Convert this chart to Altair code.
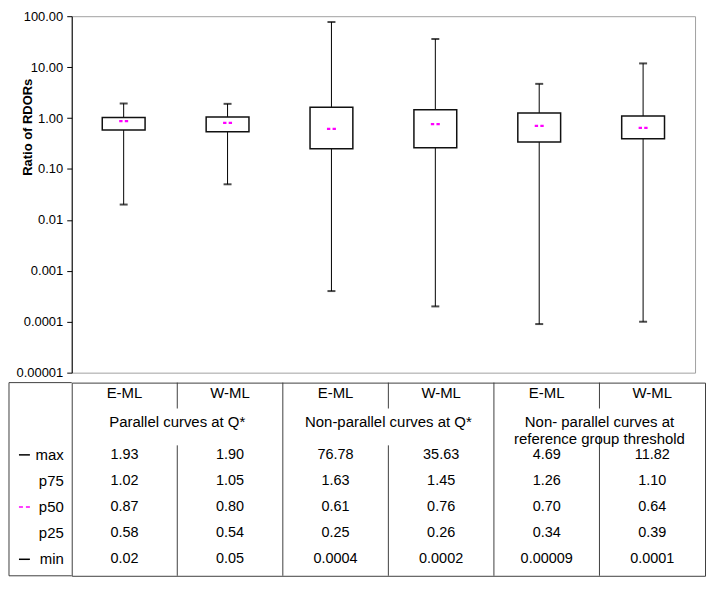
import altair as alt
import pandas as pd

# ---------------- data ----------------
col_keys = ["G1 E-ML", "G1 W-ML", "G2 E-ML", "G2 W-ML", "G3 E-ML", "G3 W-ML"]
methods = ["E-ML", "W-ML", "E-ML", "W-ML", "E-ML", "W-ML"]
group_labels = ["Parallel curves at Q*", "Non-parallel curves at Q*",
                "Non- parallel curves at\nreference group threshold"]

max_vals = [1.93, 1.90, 76.78, 35.63, 4.69, 11.82]
p75_vals = [1.02, 1.05, 1.63, 1.45, 1.26, 1.10]
p50_vals = [0.87, 0.80, 0.61, 0.76, 0.70, 0.64]
p25_vals = [0.58, 0.54, 0.25, 0.26, 0.34, 0.39]
min_vals = [0.02, 0.05, 0.0004, 0.0002, 0.00009, 0.0001]

max_txt = ["1.93", "1.90", "76.78", "35.63", "4.69", "11.82"]
p75_txt = ["1.02", "1.05", "1.63", "1.45", "1.26", "1.10"]
p50_txt = ["0.87", "0.80", "0.61", "0.76", "0.70", "0.64"]
p25_txt = ["0.58", "0.54", "0.25", "0.26", "0.34", "0.39"]
min_txt = ["0.02", "0.05", "0.0004", "0.0002", "0.00009", "0.0001"]

stat_rows = ["max", "p75", "p50", "p25", "min"]
y_ticks = [100, 10, 1, 0.1, 0.01, 0.001, 0.0001, 0.00001]
y_tick_labels = ["100.00", "10.00", "1.00", "0.10", "0.01", "0.001", "0.0001", "0.00001"]

FONT = "Liberation Sans"
BOX_W, BOX_H = 626, 358
TBL_W, TBL_H = 636, 194
LINE = "#404040"
MAGENTA = "#ff00ff"

# ---------------- box plot ----------------
box_df = pd.DataFrame({"key": col_keys, "max": max_vals, "p75": p75_vals,
                       "p50": p50_vals, "p25": p25_vals, "min": min_vals})

# label lookup by decade exponent (-5 .. 2)
by_exp = list(reversed(y_tick_labels))
label_expr = "[" + ",".join(f"'{s}'" for s in by_exp) + "][round(log(datum.value)/LN10)+5]"

yaxis = alt.Axis(values=y_ticks, labelExpr=label_expr, grid=False, title="Ratio of RDORs",
                 titleFontWeight="bold", titleFontSize=13, titleColor="black",
                 titleX=-37, titleY=111, titleBaseline="bottom", titleAngle=-90,
                 labelFontSize=13, labelColor="black", labelPadding=4,
                 tickSize=5, tickColor="black", domainColor="black")
yscale = alt.Scale(type="log", domain=[0.00001, 100], nice=False)
xb = alt.X("key:N", sort=col_keys, axis=None,
           scale=alt.Scale(type="band", domain=col_keys, paddingInner=0, paddingOuter=0))


def Yf(field):
    return alt.Y(f"{field}:Q", scale=yscale, axis=yaxis)


base = alt.Chart(box_df)
whisker = base.mark_rule(color="black", strokeWidth=1).encode(x=xb, y=Yf("min"), y2="max:Q")
box = base.mark_bar(size=43, fill="white", stroke="#111", strokeWidth=1.5).encode(
    x=xb, y=Yf("p25"), y2="p75:Q")
cap_max = base.mark_tick(size=8, thickness=2, color="black").encode(x=xb, y=Yf("max"))
cap_min = base.mark_tick(size=8, thickness=2, color="black").encode(x=xb, y=Yf("min"))
median = base.mark_point(shape="M-1,-0.25H-0.25V0.25H-1Z M0.25,-0.25H1V0.25H0.25Z",
                         size=81, filled=True, color=MAGENTA, opacity=1, strokeWidth=0).encode(
    x=xb, y=Yf("p50"))

box_chart = alt.layer(whisker, box, cap_max, cap_min, median).properties(
    width=BOX_W, height=BOX_H,
    view=alt.ViewBackground(stroke="#a0a0a0", strokeWidth=1))

# ---------------- table ----------------
tbl_rows = ["header", "group"] + stat_rows
yt_scale = alt.Scale(type="band", domain=tbl_rows, paddingInner=0, paddingOuter=0.2, align=0.67)
yt = alt.Y("row:N", sort=tbl_rows, axis=None, scale=yt_scale, bandPosition=0.5)
xt_scale = alt.Scale(type="band", domain=col_keys, paddingInner=0, paddingOuter=0)
xt = alt.X("key:N", sort=col_keys, axis=None, scale=xt_scale, bandPosition=0.5)
xt_edge = alt.X("key:N", sort=col_keys, axis=None, scale=xt_scale, bandPosition=0)

FS_HEAD = 15
FS_VAL = 14.5
header_df = pd.DataFrame({"key": col_keys, "row": "header", "text": methods})
header = alt.Chart(header_df).mark_text(fontSize=FS_HEAD, color="black", baseline="middle", dy=-10).encode(
    x=xt, y=yt, text="text:N")

group_df = pd.DataFrame({"key": [col_keys[1], col_keys[3], col_keys[5]], "row": "group",
                         "text": group_labels})
group = alt.Chart(group_df).mark_text(fontSize=FS_HEAD, color="black", baseline="top", dy=-14,
                                      lineBreak="\n", lineHeight=17).encode(
    x=xt_edge, y=yt, text="text:N")

vals = []
for r, txts in zip(stat_rows, [max_txt, p75_txt, p50_txt, p25_txt, min_txt]):
    for k, t in zip(col_keys, txts):
        vals.append({"key": k, "row": r, "text": t})
vals_df = pd.DataFrame(vals)
values = alt.Chart(vals_df).mark_text(fontSize=FS_VAL, color="black", baseline="middle").encode(
    x=xt, y=yt, text="text:N")

rowlab_df = pd.DataFrame({"row": stat_rows, "text": stat_rows})
rowlabels = alt.Chart(rowlab_df).mark_text(fontSize=FS_HEAD, color="black", baseline="middle",
                                           align="right").encode(
    x=alt.value(-8), y=yt, text="text:N")

leg_solid = alt.Chart(pd.DataFrame({"row": ["max", "min"]})).mark_rule(
    color="black", strokeWidth=1.5).encode(x=alt.value(-53), x2=alt.value(-42), y=yt)
leg_dash = alt.Chart(pd.DataFrame({"row": ["p50"]})).mark_rule(
    color=MAGENTA, strokeWidth=1.5, strokeDash=[4, 3]).encode(x=alt.value(-53), x2=alt.value(-42), y=yt)

# grid lines (layout)
full_div = alt.Chart(pd.DataFrame({"key": [col_keys[2], col_keys[4]]})).mark_rule(
    color=LINE, strokeWidth=1).encode(x=xt_edge, y=alt.value(0), y2=alt.value(TBL_H))
inner_top = alt.Chart(pd.DataFrame({"key": [col_keys[1], col_keys[3], col_keys[5]]})).mark_rule(
    color=LINE, strokeWidth=1).encode(x=xt_edge, y=alt.value(0), y2=alt.value(26))
inner_bot12 = alt.Chart(pd.DataFrame({"key": [col_keys[1], col_keys[3]]})).mark_rule(
    color=LINE, strokeWidth=1).encode(x=xt_edge, y=alt.value(63), y2=alt.value(TBL_H))
inner_bot3 = alt.Chart(pd.DataFrame({"key": [col_keys[5]]})).mark_rule(
    color=LINE, strokeWidth=1).encode(x=xt_edge, y=alt.value(54), y2=alt.value(TBL_H))

one = pd.DataFrame({"a": [0]})
ext_top = alt.Chart(one).mark_rule(color=LINE, strokeWidth=1).encode(
    x=alt.value(-63), x2=alt.value(0), y=alt.value(0))
ext_bot = alt.Chart(one).mark_rule(color=LINE, strokeWidth=1).encode(
    x=alt.value(-63), x2=alt.value(0), y=alt.value(TBL_H))
ext_left = alt.Chart(one).mark_rule(color=LINE, strokeWidth=1).encode(
    x=alt.value(-63), y=alt.value(0), y2=alt.value(TBL_H))

table_chart = alt.layer(full_div, inner_top, inner_bot12, inner_bot3, ext_top, ext_bot, ext_left,
                        header, group, values, rowlabels, leg_solid, leg_dash).properties(
    width=TBL_W, height=TBL_H,
    view=alt.ViewBackground(stroke=LINE, strokeWidth=1))

chart = alt.vconcat(box_chart, table_chart, spacing=10, bounds="flush").properties(
    padding=0
).configure(font=FONT).configure_text(font=FONT)

chart.save("out.html", embed_options={"renderer": "svg", "actions": False})
